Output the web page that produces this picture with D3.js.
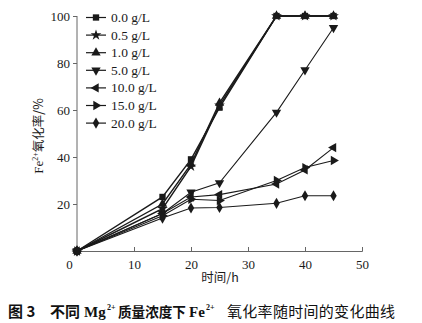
<!DOCTYPE html>
<html>
<head>
<meta charset="utf-8">
<script src="https://cdn.jsdelivr.net/npm/d3@7"></script>
<style>
  html, body { margin: 0; padding: 0; background: #fff; }
  svg { display: block; }
</style>
</head>
<body>
<svg id="chart" width="422" height="323"></svg>
<script>
// Sampling times (h)
const times = [0, 15, 20, 25, 35, 40, 45];

// Mg2+ concentration series (legend order)
const seriesNames = ["0.0 g/L", "0.5 g/L", "1.0 g/L", "5.0 g/L", "10.0 g/L", "15.0 g/L", "20.0 g/L"];

// Fe2+ oxidation rate (%) per series
const s00 = [0, 23, 39, 61, 100, 100, 100];
const s05 = [0, 18, 36, 62, 100, 100, 100];
const s10 = [0, 20, 37, 63, 100, 100, 100];
const s50 = [0, 16, 25, 29, 59, 77, 95];
const s100 = [0, 16, 23, 24, 28.5, 34.5, 44];
const s150 = [0, 15, 22, 21.5, 30, 35.5, 38.5];
const s200 = [0, 14, 18.3, 18.5, 20.3, 23.5, 23.5];
const seriesValues = [s00, s05, s10, s50, s100, s150, s200];

// Axis ticks
const xTicks = [0, 10, 20, 30, 40, 50];
const yTicks = [20, 40, 60, 80, 100];

const svg = d3.select("#chart");
const serif = "'Liberation Serif', 'Times New Roman', serif";
const cjk = "'Noto Sans CJK SC', sans-serif";
const ink = "#1a1a1a";

const x = d3.scaleLinear().domain([0, 50]).range([77, 362]);
const y = d3.scaleLinear().domain([0, 100]).range([251, 16]);

// Marker shapes: [symbol type, rotation, area]
const markers = [
  [d3.symbolSquare, 0, 40],
  [d3.symbolStar, 0, 36],
  [d3.symbolTriangle, 0, 38],
  [d3.symbolTriangle, 180, 38],
  [d3.symbolTriangle, -90, 38],
  [d3.symbolTriangle, 90, 38],
  [d3.symbolDiamond, 0, 36]
];

function drawMarker(g, i, cx, cy) {
  const [type, rot, size] = markers[i];
  g.append("path")
    .attr("d", d3.symbol().type(type).size(size)())
    .attr("transform", `translate(${cx},${cy}) rotate(${rot})`)
    .attr("fill", ink);
}

// Axes
const xAxis = d3.axisBottom(x).tickValues(xTicks).tickSize(-4).tickPadding(9).tickFormat(d3.format("d"));
const gx = svg.append("g").attr("transform", `translate(0,${y(0)})`).call(xAxis);
gx.select(".domain").attr("stroke", "#666").attr("stroke-width", 1);
gx.selectAll(".tick line").attr("stroke", "#666");
gx.selectAll(".tick text").attr("font-family", serif).attr("font-size", 13).attr("fill", ink).attr("dx", (d) => d === 0 ? -8 : 0);

const yAxis = d3.axisLeft(y).tickValues(yTicks).tickSize(4).tickPadding(3).tickFormat(d3.format("d"));
const gy = svg.append("g").attr("transform", `translate(${x(0)},0)`).call(yAxis);
gy.select(".domain").attr("stroke", "#666").attr("stroke-width", 1).attr("d", `M0,${y(0)}V${y(100)}`);
gy.selectAll(".tick line").attr("stroke", "#666");
gy.selectAll(".tick text").attr("font-family", serif).attr("font-size", 13).attr("fill", ink);

// Series lines and markers
const line = d3.line().x((d, i) => x(times[i])).y((d) => y(d));
seriesValues.forEach((vals, i) => {
  const g = svg.append("g");
  g.append("path")
    .attr("d", line(vals))
    .attr("fill", "none")
    .attr("stroke", ink)
    .attr("stroke-width", i < 3 ? 1.4 : 1.1);
  vals.forEach((v, j) => drawMarker(g, i, x(times[j]), y(v)));
});

// Legend
const legend = svg.append("g");
seriesNames.forEach((name, i) => {
  const ly = 17.5 + i * 17.6;
  legend.append("line")
    .attr("x1", 86).attr("x2", 106).attr("y1", ly).attr("y2", ly)
    .attr("stroke", ink).attr("stroke-width", 1.2);
  drawMarker(legend, i, 96, ly);
  legend.append("text")
    .attr("x", 111).attr("y", ly + 4.5)
    .attr("font-family", serif).attr("font-size", 13.5).attr("fill", ink)
    .text(name);
});

// Axis titles
const yt = svg.append("text")
  .attr("transform", "translate(43,136) rotate(-90)")
  .attr("text-anchor", "middle")
  .attr("font-family", serif).attr("font-size", 13).attr("fill", ink);
yt.append("tspan").text("Fe");
yt.append("tspan").attr("font-size", 8).attr("dy", -5).text("2+");
yt.append("tspan").attr("dy", 5).attr("font-family", cjk).attr("font-size", 12.5).text("氧化率/%");

svg.append("text")
  .attr("x", 220).attr("y", 282)
  .attr("text-anchor", "middle")
  .attr("font-family", cjk).attr("font-size", 12.5).attr("fill", ink)
  .text("时间/h");

// Figure caption
const capY = 317;
const cap = svg.append("g").attr("fill", "#111");
function capText(xPos, str, opts = {}) {
  return cap.append("text")
    .attr("x", xPos).attr("y", capY + (opts.dy || 0))
    .attr("font-family", opts.family || cjk)
    .attr("font-size", opts.size || 15)
    .attr("font-weight", opts.weight || "bold")
    .attr("letter-spacing", opts.ls || 0)
    .text(str);
}
capText(8, "图 3");
capText(50, "不同");
capText(84, "Mg", { family: serif, size: 15 });
capText(107, "2+", { family: serif, size: 8, dy: -7 });
capText(118, "质量浓度下", { size: 13.6 });
capText(189, "Fe", { family: serif, size: 15 });
capText(206, "2+", { family: serif, size: 8, dy: -7 });
capText(227, "氧化率随时间的变化曲线", { weight: "normal", ls: 0.3 });
</script>
</body>
</html>
